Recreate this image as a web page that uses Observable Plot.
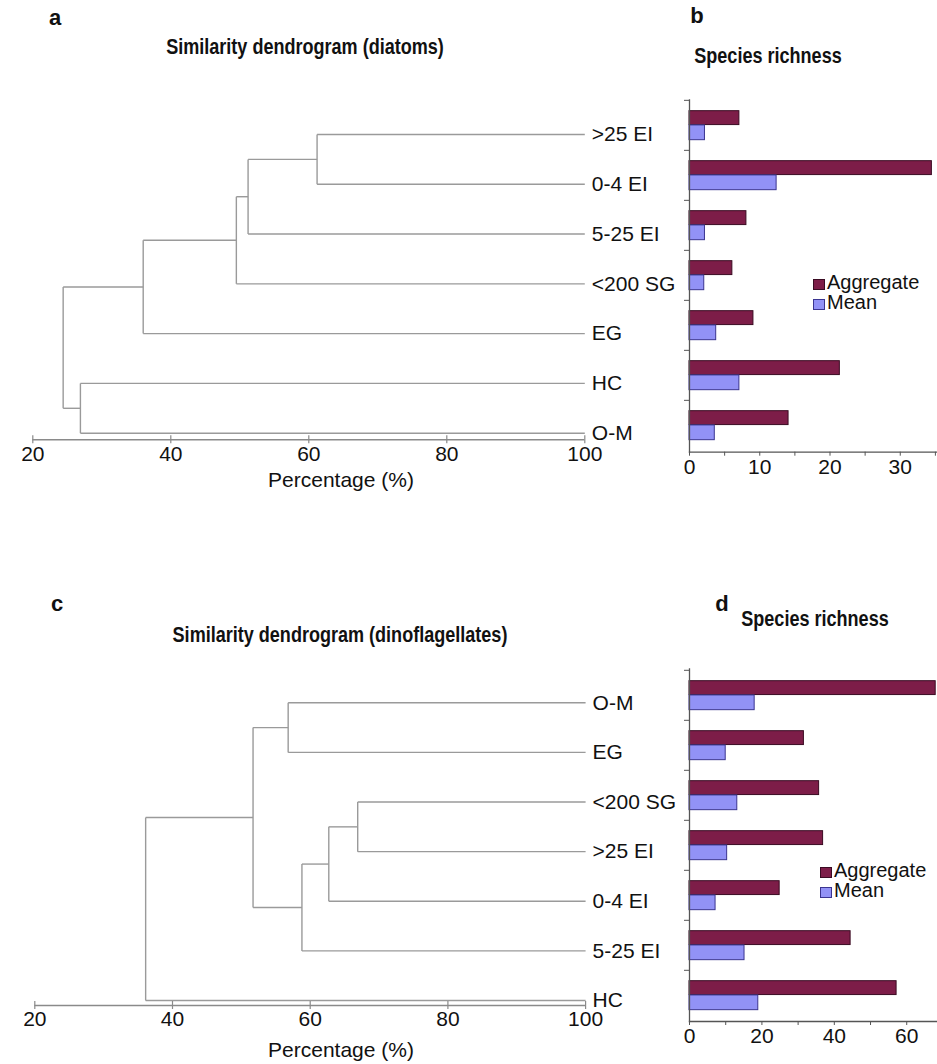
<!DOCTYPE html>
<html><head><meta charset="utf-8">
<script src="https://cdn.jsdelivr.net/npm/d3@7"></script>
<script src="https://cdn.jsdelivr.net/npm/@observablehq/plot@0.6"></script>
<style>
body{margin:0;background:#fff;}
#root{position:relative;width:937px;height:1064px;overflow:hidden;font-family:"Liberation Sans",Arial,sans-serif;color:#111;}
.abs{position:absolute;white-space:nowrap;transform:translate(-50%,-50%);}
.letter{font-weight:bold;font-size:22px;}
.title{font-family:"Liberation Sans Narrow","Liberation Sans",Arial,sans-serif;font-weight:bold;font-size:22px;transform:translate(-50%,-50%) scaleX(0.82);}
.axt{font-size:21px;}
.leg{position:absolute;font-size:20px;line-height:20px;}
.leg div{display:flex;align-items:center;}
.sw{display:inline-block;width:10px;height:9px;margin-right:2px;margin-top:4px;border:1px solid #333;}
svg{position:absolute;overflow:visible;}
</style></head><body><div id="root"></div>
<script>
// ---- data ----
const diatomLeaves = [">25 EI", "0-4 EI", "5-25 EI", "<200 SG", "EG", "HC", "O-M"];
const diatomLinkage = [
  [">25 EI", "0-4 EI", 61.2],
  ["m0", "5-25 EI", 51.2],
  ["m1", "<200 SG", 49.5],
  ["m2", "EG", 36.0],
  ["HC", "O-M", 26.9],
  ["m3", "m4", 24.4]
];
const dinoLeaves = ["O-M", "EG", "<200 SG", ">25 EI", "0-4 EI", "5-25 EI", "HC"];
const dinoLinkage = [
  ["O-M", "EG", 56.8],
  ["<200 SG", ">25 EI", 66.9],
  ["m1", "0-4 EI", 62.7],
  ["m2", "5-25 EI", 58.8],
  ["m0", "m3", 51.7],
  ["m4", "HC", 36.1]
];
const percentTicks = [20, 40, 60, 80, 100];

const diatomCats = [">25 EI", "0-4 EI", "5-25 EI", "<200 SG", "EG", "HC", "O-M"];
const diatomAggregate = [7.1, 34.5, 8.1, 6.1, 9.1, 21.4, 14.1];
const diatomMean = [2.2, 12.4, 2.2, 2.1, 3.8, 7.1, 3.6];
const dinoCats = ["O-M", "EG", "<200 SG", ">25 EI", "0-4 EI", "5-25 EI", "HC"];
const dinoAggregate = [68.0, 31.6, 35.8, 36.9, 24.9, 44.5, 57.2];
const dinoMean = [18.0, 10.0, 13.2, 10.4, 7.2, 15.2, 19.0];
const diatomRichTicks = [0, 10, 20, 30];
const diatomRichMinor = [5, 15, 25, 35];
const dinoRichTicks = [0, 20, 40, 60];
const dinoRichMinor = [10, 30, 50];
const seriesNames = ["Aggregate", "Mean"];
const seriesFill = ["#7d1d48", "#9292f6"];
const seriesStroke = ["#3a0b22", "#3b3590"];

// ---- helpers ----
const root = document.getElementById("root");
function place(node, left, top) { node.style.left = left + "px"; node.style.top = top + "px"; root.appendChild(node); }
function label(text, cls, cx, cy) { const d = document.createElement("div"); d.className = "abs " + cls; d.textContent = text; place(d, cx, cy); }

function dendroSegments(leaves, linkage) {
  const pos = new Map(leaves.map((l, i) => [l, {x: 100, y: i}]));
  const segs = [];
  linkage.forEach(([a, b, h], k) => {
    const A = pos.get(a), B = pos.get(b);
    segs.push({x1: h, x2: A.x, y1: A.y, y2: A.y});
    segs.push({x1: h, x2: B.x, y1: B.y, y2: B.y});
    segs.push({x1: h, x2: h, y1: A.y, y2: B.y});
    pos.set("m" + k, {x: h, y: (A.y + B.y) / 2});
  });
  return segs;
}

function dendrogram(leaves, linkage, {width, height, marginLeft, marginRight, marginTop, marginBottom, yMax}) {
  const segs = dendroSegments(leaves, linkage);
  return Plot.plot({
    width, height, marginLeft, marginRight, marginTop, marginBottom,
    style: {fontFamily: "'Liberation Sans', Arial, sans-serif", fontSize: "21px", color: "#111", background: "transparent"},
    x: {domain: [20, 100]},
    y: {domain: [0, yMax], reverse: true, axis: null},
    marks: [
      Plot.link(segs, {x1: "x1", y1: "y1", x2: "x2", y2: "y2", stroke: "#9a9a9a", strokeWidth: 1.4}),
      Plot.text(leaves, {x: 100, y: (d, i) => i, text: d => d, textAnchor: "start", dx: 7, fontSize: 21, fill: "#111"}),
      Plot.ruleY([yMax], {x1: 20, x2: 100, stroke: "#8a8a8a", strokeWidth: 1.4}),
      Plot.ruleX(percentTicks, {x: d => d, y1: yMax, y2: yMax, insetTop: -4, insetBottom: -4, stroke: "#8a8a8a", strokeWidth: 1.2}),
      Plot.axisX(percentTicks, {tickSize: 0, tickPadding: 6, fontSize: 21, fill: "#111", label: null})
    ]
  });
}

function bars(cats, agg, mean, majors, minors, xMax, {width, height, marginLeft, marginTop, marginBottom}) {
  const rows = cats.flatMap((c, i) => [
    {cat: c, series: seriesNames[0], value: agg[i]},
    {cat: c, series: seriesNames[1], value: mean[i]}
  ]);
  const band = (height - marginTop - marginBottom) / cats.length;
  return Plot.plot({
    width, height, marginLeft, marginRight: 0, marginTop, marginBottom,
    style: {fontFamily: "'Liberation Sans', Arial, sans-serif", fontSize: "21px", color: "#111", background: "transparent"},
    x: {domain: [0, xMax]},
    y: {domain: cats, type: "band", padding: 0},
    marks: [
      Plot.barX(rows.filter(d => d.series === seriesNames[0]), {x: "value", y: "cat", fill: seriesFill[0], stroke: seriesStroke[0], strokeWidth: 1, insetTop: band * 0.212, insetBottom: band * 0.505}),
      Plot.barX(rows.filter(d => d.series === seriesNames[1]), {x: "value", y: "cat", fill: seriesFill[1], stroke: seriesStroke[1], strokeWidth: 1, insetTop: band * 0.495, insetBottom: band * 0.205}),
      Plot.frame({anchor: "left", stroke: "#555", strokeWidth: 1.3}),
      Plot.frame({anchor: "bottom", stroke: "#555", strokeWidth: 1.3}),
      Plot.axisY({tickSize: 5, tickFormat: () => "", dy: -band / 2, stroke: "#555", label: null}),
      Plot.axisX(minors, {tickSize: 4, tickFormat: () => "", stroke: "#555", label: null}),
      Plot.axisX(majors, {tickSize: 4, tickPadding: 3, fontSize: 21, fill: "#111", stroke: "#555", label: null})
    ]
  });
}

function legend(left, top) {
  const box = document.createElement("div");
  box.className = "leg";
  seriesNames.forEach((s, i) => {
    const row = document.createElement("div");
    const sw = document.createElement("span");
    sw.className = "sw"; sw.style.background = seriesFill[i]; sw.style.borderColor = seriesStroke[i];
    row.appendChild(sw); row.appendChild(document.createTextNode(s));
    box.appendChild(row);
  });
  place(box, left, top);
}

// ---- panel a ----
const a = dendrogram(diatomLeaves, diatomLinkage, {width: 688, height: 400, marginLeft: 32.3, marginRight: 103.7, marginTop: 34, marginBottom: 60.7, yMax: 6.133});
place(a, 0, 100);
// ---- panel b ----
const b = bars(diatomCats, diatomAggregate, diatomMean, diatomRichTicks, diatomRichMinor, 35.3, {width: 337, height: 420, marginLeft: 89, marginTop: 19.3, marginBottom: 48.3});
place(b, 600, 80);
legend(813, 272);
// ---- panel c ----
const c = dendrogram(dinoLeaves, dinoLinkage, {width: 688, height: 404, marginLeft: 34.3, marginRight: 102.9, marginTop: 42.3, marginBottom: 59, yMax: 6.1});
place(c, 0, 660);
// ---- panel d ----
const d = bars(dinoCats, dinoAggregate, dinoMean, dinoRichTicks, dinoRichMinor, 68.5, {width: 337, height: 424, marginLeft: 89, marginTop: 28.3, marginBottom: 43});
place(d, 600, 640);
legend(820, 860);

// ---- titles ----
label("a", "letter", 55, 18);
label("Similarity dendrogram (diatoms)", "title", 305, 47);
label("b", "letter", 697, 16);
label("Species richness", "title", 768, 56);
label("Percentage (%)", "axt", 341, 480);
label("c", "letter", 57, 604);
label("Similarity dendrogram (dinoflagellates)", "title", 340, 635);
label("d", "letter", 722, 604);
label("Species richness", "title", 815, 619);
label("Percentage (%)", "axt", 341, 1050);
</script></body></html>
